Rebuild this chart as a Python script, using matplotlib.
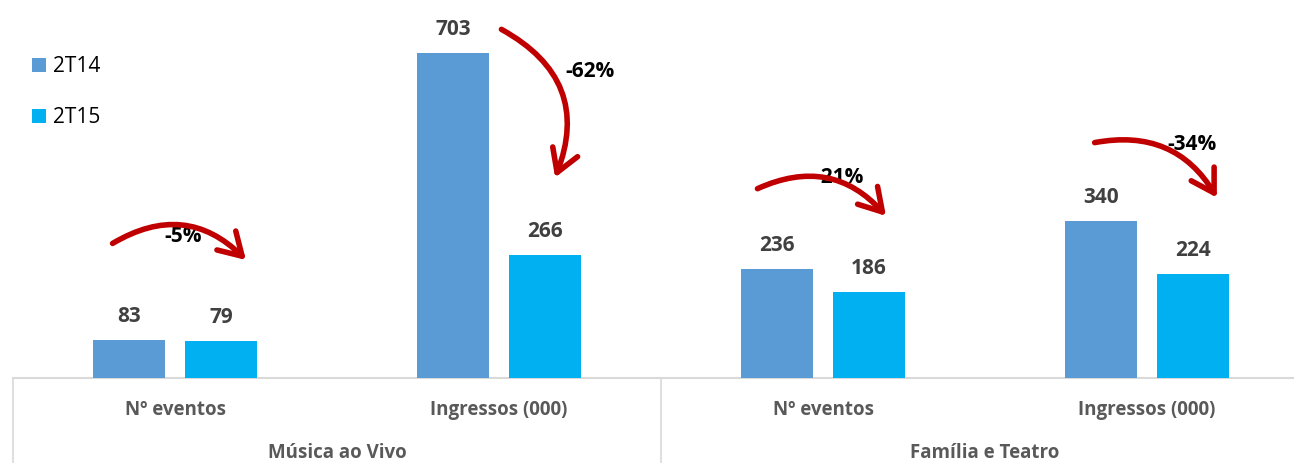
import matplotlib
matplotlib.use("Agg")
import matplotlib.pyplot as plt
from matplotlib.patches import FancyArrowPatch
import matplotlib.transforms as mtransforms
import numpy as np

categories = ["Nº eventos", "Ingressos (000)", "Nº eventos", "Ingressos (000)"]
groups = ["Música ao Vivo", "Família e Teatro"]
series_names = ["2T14", "2T15"]
v2t14 = [83, 703, 236, 340]
v2t15 = [79, 266, 186, 224]
changes = ["-5%", "-62%", "-21%", "-34%"]

plt.rcParams['font.family'] = ['Open Sans', 'DejaVu Sans']

W, H = 1294, 463
fig = plt.figure(figsize=(W/100, H/100), dpi=100)
left_px, base_px = 13, 378
cat_px = 324
ax = fig.add_axes([left_px/W, (H-base_px)/H, 4*cat_px/W, base_px/H])
scale = 325/703
ax.set_xlim(-0.5, 3.5)
ax.set_ylim(0, base_px/scale)

x = np.arange(len(categories))
off = 46/cat_px
bw = 72/cat_px
c1, c2 = "#5B9BD5", "#00B0F0"
b1 = ax.bar(x - off, v2t14, bw, color=c1, label=series_names[0], zorder=2)
b2 = ax.bar(x + off, v2t15, bw, color=c2, label=series_names[1], zorder=2)

vfs = 15
for xi, a, b in zip(x, v2t14, v2t15):
    ax.annotate(str(a), (xi - off, a), xytext=(0, 17), textcoords="offset points",
                ha="center", va="center", fontsize=vfs, fontweight="bold", color="#404040")
    ax.annotate(str(b), (xi + off, b), xytext=(0, 17), textcoords="offset points",
                ha="center", va="center", fontsize=vfs, fontweight="bold", color="#404040")

for s in ax.spines.values():
    s.set_visible(False)
ax.set_yticks([])
ax.set_xticks([])

grey = "#D9D9D9"
ax.axhline(0, color=grey, lw=1.5, zorder=1, clip_on=False)
trans = mtransforms.blended_transform_factory(ax.transData, ax.transAxes)
for xv in [-0.5, 1.5, 3.5]:
    ax.plot([xv, xv], [0, -0.25], color=grey, lw=1.2, transform=trans, clip_on=False)

for xi, lab in zip(x, categories):
    ax.text(xi, -32/base_px, lab, transform=trans, ha="center", va="center",
            fontsize=13.5, fontweight="bold", color="#595959")
for gi, g in enumerate(groups):
    ax.text(2*gi + 0.5, -75/base_px, g, transform=trans, ha="center", va="center",
            fontsize=13.5, fontweight="bold", color="#595959")

# legend
leg = fig.legend(handles=[b1, b2], labels=series_names, loc="upper left",
                 bbox_to_anchor=(32/W, 1 - 56/H), frameon=False, fontsize=15,
                 handlelength=0.65, handleheight=0.65, handletextpad=0.35,
                 labelspacing=1.45, borderaxespad=0, borderpad=0)

# change arrows (positions relative to category index)
red = "#C00000"
arrows = [
    ((-0.20, 288), (0.225, 251), -0.4),
    ((1.00, 757), (1.17, 428), -0.45),
    ((1.79, 407), (2.20, 346), -0.38),
    ((2.83, 508), (3.22, 385), -0.36),
]
label_pos = [(0.025, 307), (1.28, 662), (2.05, 433), (3.14, 506)]
for (s, e, rad), lab, lp in zip(arrows, changes, label_pos):
    ax.text(lp[0], lp[1], lab, ha="center", va="center", fontsize=vfs,
            fontweight="bold", color="black", zorder=3)
    arr = FancyArrowPatch(s, e, connectionstyle=f"arc3,rad={rad}",
                          arrowstyle="->,head_length=10,head_width=6",
                          color=red, lw=4, zorder=4, clip_on=False,
                          mutation_scale=1.6, capstyle="round", joinstyle="round")
    ax.add_patch(arr)

fig.savefig("out.png", dpi=100)
